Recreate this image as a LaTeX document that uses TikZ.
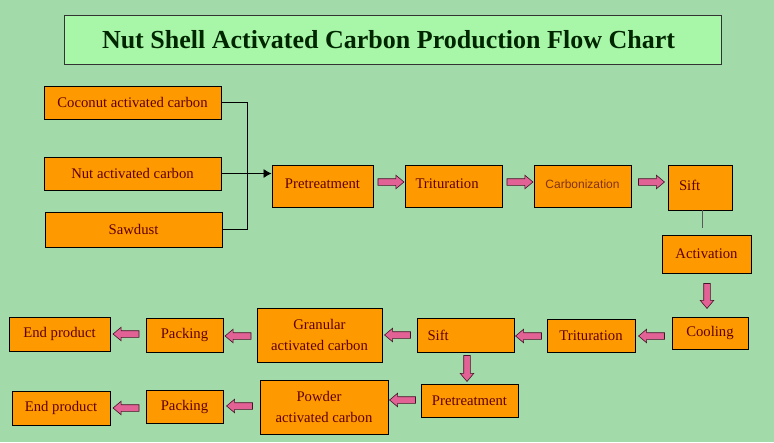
\documentclass[tikz,border=0pt]{standalone}
\usepackage{fontspec}
\setmainfont{Liberation Serif}
\newfontfamily\arialfont{Liberation Sans}
\usetikzlibrary{shapes.arrows,calc,arrows.meta}
\definecolor{bg}{RGB}{162,218,170}
\definecolor{titlebg}{RGB}{168,247,168}
\definecolor{boxor}{RGB}{255,153,0}
\definecolor{txt}{RGB}{95,0,0}
\definecolor{carbtxt}{RGB}{130,50,20}
\definecolor{pinkar}{RGB}{226,98,150}
\definecolor{pinkline}{RGB}{70,20,40}
\begin{document}
\begin{tikzpicture}[x=1pt,y=-1pt,
  box/.style={draw=black, line width=0.9pt, fill=boxor, text=txt,
    font=\fontsize{14.7}{17}\selectfont, inner sep=0pt, align=center},
  parrow/.style={single arrow, draw=pinkline, line width=0.6pt, fill=pinkar,
    minimum height=26pt, inner xsep=0pt, inner ysep=3pt,
    single arrow head extend=3.5pt, single arrow tip angle=80},
  parrowdown/.style={parrow, shape border rotate=270, inner xsep=3pt, inner ysep=0pt},
  parrowleft/.style={parrow, shape border rotate=180},
  link/.style={draw=black, line width=0.8pt}]
\fill[bg] (0,0) rectangle (774,442);
\useasboundingbox (0,0) rectangle (774,442);

% title
\node[draw=black!80, line width=0.9pt, fill=titlebg, minimum width=657pt, minimum height=49pt,
  inner sep=0pt, text=black!85!green,
  font=\bfseries\fontsize{26}{30}\selectfont] (title) at (392.5,39.5)
  {\hspace*{-8pt}Nut Shell Activated Carbon Production Flow Chart};

% raw materials
\node[box, minimum width=177pt, minimum height=33pt] (coco) at (132.5,102.5) {Coconut activated carbon};
\node[box, minimum width=177pt, minimum height=33pt] (nut) at (132.5,173.5) {Nut activated carbon};
\node[box, minimum width=177pt, minimum height=35pt] (saw) at (133.5,229.5) {Sawdust};

% top row
\node[box, minimum width=101pt, minimum height=42pt] (pre1) at (322.5,186) {\raisebox{4pt}{Pretreatment}};
\node[box, minimum width=97pt, minimum height=42pt] (trit1) at (453.5,186) {\raisebox{4pt}{\makebox[76pt][l]{Trituration}}};
\node[box, minimum width=97pt, minimum height=42pt] (carb) at (582.5,186) {\raisebox{4pt}{\arialfont\color{carbtxt}\fontsize{12}{15}\selectfont Carbonization}};
\node[box, minimum width=64pt, minimum height=45pt] (sift1) at (700,187.5) {\raisebox{5pt}{\makebox[42pt][l]{Sift}}};

% right column
\node[box, minimum width=89pt, minimum height=38pt] (act) at (706.5,254) {Activation};
\node[box, minimum width=76pt, minimum height=32pt] (cool) at (710,333) {Cooling};

% middle row
\node[box, minimum width=88pt, minimum height=33pt] (trit2) at (591,335.5) {Trituration};
\node[box, minimum width=97pt, minimum height=34pt] (sift2) at (465.5,335) {\makebox[76pt][l]{Sift}};
\node[box, minimum width=125pt, minimum height=54pt, font=\fontsize{14.7}{21}\selectfont] (gran) at (319.5,335) {Granular\\activated carbon};
\node[box, minimum width=77pt, minimum height=34pt] (pack1) at (184.5,335) {Packing};
\node[box, minimum width=101pt, minimum height=34pt] (end1) at (59.5,334) {End product};

% bottom row
\node[box, minimum width=97pt, minimum height=33pt] (pre2) at (469.5,400.5) {Pretreatment};
\node[box, minimum width=128pt, minimum height=54pt, font=\fontsize{14.7}{21}\selectfont] (pow) at (324,407) {\hspace*{-10pt}Powder\\activated carbon};
\node[box, minimum width=77pt, minimum height=33pt] (pack2) at (184.5,406.5) {Packing};
\node[box, minimum width=98pt, minimum height=34pt] (end2) at (61,408) {End product};

% black connectors
\draw[link] (coco.east) -- (coco.east -| 247,0) -- (saw.east -| 247,0) -- (saw.east);
\draw[link, -{Latex[length=8pt,width=9pt]}] (nut.east) -- (nut.east -| pre1.west);
\coordinate (siftend) at (702,228);
\draw[gray!70!black, line width=0.6pt] (sift1.south -| siftend) -- (siftend);

% pink block arrows
\node[parrow] (a1) at ($(pre1.east |- 0,182)!0.5!(trit1.west |- 0,182)$) {};
\node[parrow] (a2) at ($(trit1.east |- 0,182)!0.5!(carb.west |- 0,182)$) {};
\node[parrow] (a3) at ($(carb.east |- 0,182)!0.5!(sift1.west |- 0,182)$) {};
\node[parrowdown, minimum height=25pt] (a4) at (707,294) {};
\node[parrowleft] (a5) at ($(cool.west |- 0,336)!0.5!(trit2.east |- 0,336)$) {};
\node[parrowleft] (a6) at ($(trit2.west |- 0,336)!0.5!(sift2.east |- 0,336)$) {};
\node[parrowleft] (a7) at ($(sift2.west |- 0,335)!0.5!(gran.east |- 0,335)$) {};
\node[parrowdown] (a8) at (467,366.5) {};
\node[parrowleft] (a9) at ($(pre2.west |- 0,400)!0.5!(pow.east |- 0,400)$) {};
\node[parrowleft] (a10) at ($(gran.west |- 0,336)!0.5!(pack1.east |- 0,336)$) {};
\node[parrowleft] (a11) at ($(pack1.west |- 0,334)!0.5!(end1.east |- 0,334)$) {};
\node[parrowleft] (a12) at ($(pow.west |- 0,406)!0.5!(pack2.east |- 0,406)$) {};
\node[parrowleft] (a13) at ($(pack2.west |- 0,408)!0.5!(end2.east |- 0,408)$) {};
\end{tikzpicture}
\end{document}
